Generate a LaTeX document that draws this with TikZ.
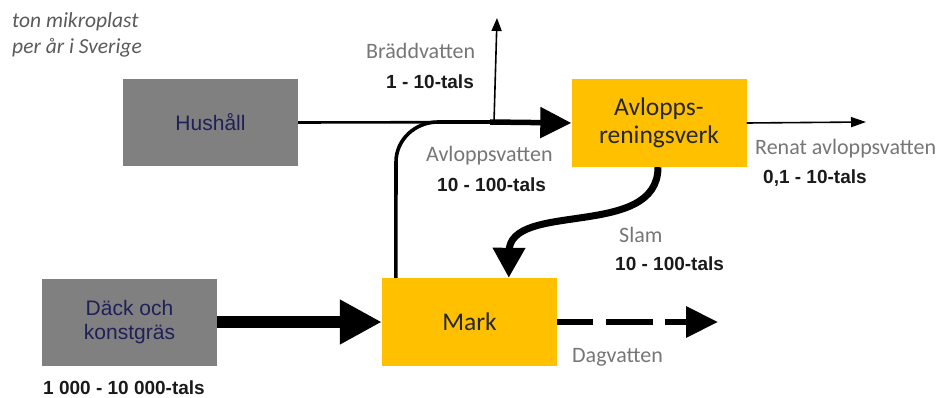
\documentclass[tikz,border=0pt]{standalone}
\usepackage{fontspec}
\setmainfont{Carlito}
\newfontfamily\arialf{Liberation Sans}
\usetikzlibrary{arrows.meta}
\definecolor{boxgray}{HTML}{808080}
\definecolor{boxyel}{HTML}{FFC000}
\definecolor{navy}{HTML}{1F2058}
\definecolor{lblgray}{HTML}{767676}
\definecolor{numblack}{HTML}{1A1A1A}
\definecolor{noteg}{HTML}{5A5A5A}
\tikzset{
  graybox/.style={fill=boxgray, draw=none, minimum width=175pt, minimum height=87pt, inner sep=0pt, align=center, text=navy, font=\arialf\fontsize{21}{24}\selectfont},
  yelbox/.style={fill=boxyel, draw=none, minimum width=175pt, minimum height=88pt, inner sep=0pt, align=center, text=black!85, font=\fontsize{25.5}{28}\selectfont},
  lbl/.style={anchor=base west, inner sep=0pt, text=lblgray, font=\fontsize{22}{26}\selectfont},
  num/.style={anchor=base west, inner sep=0pt, text=numblack, font=\arialf\bfseries\fontsize{19}{22}\selectfont},
  note/.style={anchor=base west, inner sep=0pt, text=noteg, font=\itshape\fontsize{21.5}{26}\selectfont},
}
\begin{document}
\begin{tikzpicture}[x=1pt,y=-1pt]
\useasboundingbox (0,0) rectangle (944,398);
% boxes
\node[graybox] (hus) at (210.5,122.5) {Hushåll};
\node[yelbox] (avl) at (659,123) {Avlopps-\\reningsverk};
\node[graybox] (dack) at (129.5,322) {Däck och\\konstgräs};
\node[yelbox] (mark) at (469.5,322) {Mark};
% coordinates
\coordinate (bx) at (494,122);
\coordinate (btop) at (497,18);
\coordinate (merge) at (530,122);
\coordinate (renat) at (866,122);
\coordinate (dag) at (718,322);
% Hushåll -> Avlopps
\draw[line width=2.6] (hus.east) -- (merge);
\draw[line width=5.5, -{Triangle[length=31pt,width=30pt]}] (490,122) -- (avl.west);
% Mark -> merge
\draw[line width=3.6] ([xshift=14pt]mark.north west) -- (396,162) to[out=90,in=180] (438,122) -- (merge);
% Bräddvatten
\draw[line width=1.6, -{Triangle[length=13pt,width=10pt]}] (bx) -- (btop);
% Renat
\draw[line width=1.6, -{Triangle[length=15pt,width=10pt]}] (avl.east) -- (renat);
% Slam
\draw[line width=7, -{Triangle[length=30pt,width=31pt]}] ([xshift=-1pt]avl.south) .. controls (658,240) and (509,200) .. (509,252) -- ([xshift=127pt]mark.north west);
% Däck -> Mark
\draw[line width=11.5, -{Triangle[length=42pt,width=42pt]}] (dack.east) -- (mark.west);
% Dagvatten
\draw[line width=6.5, dash pattern=on 36pt off 13pt on 47pt off 12pt, -{Triangle[length=32pt,width=30pt]}] (mark.east) -- (dag);
% labels
\node[note] (n1) at (12,28) {ton mikroplast};
\node[note] (n2) at (12,54) {per år i Sverige};
\node[lbl] (l1) at (366,59) {Bräddvatten};
\node[num] (v1) at (386,89) {1 - 10-tals};
\node[lbl] (l2) at (426,161) {Avloppsvatten};
\node[num] (v2) at (437,192) {10 - 100-tals};
\node[lbl] (l3) at (755,155) {Renat avloppsvatten};
\node[num] (v3) at (763,183) {0,1 - 10-tals};
\node[lbl] (l4) at (619,242) {Slam};
\node[num] (v4) at (615,270) {10 - 100-tals};
\node[lbl] (l5) at (572,362) {Dagvatten};
\node[num] (v5) at (43,394) {1 000 - 10 000-tals};
\end{tikzpicture}
\end{document}
